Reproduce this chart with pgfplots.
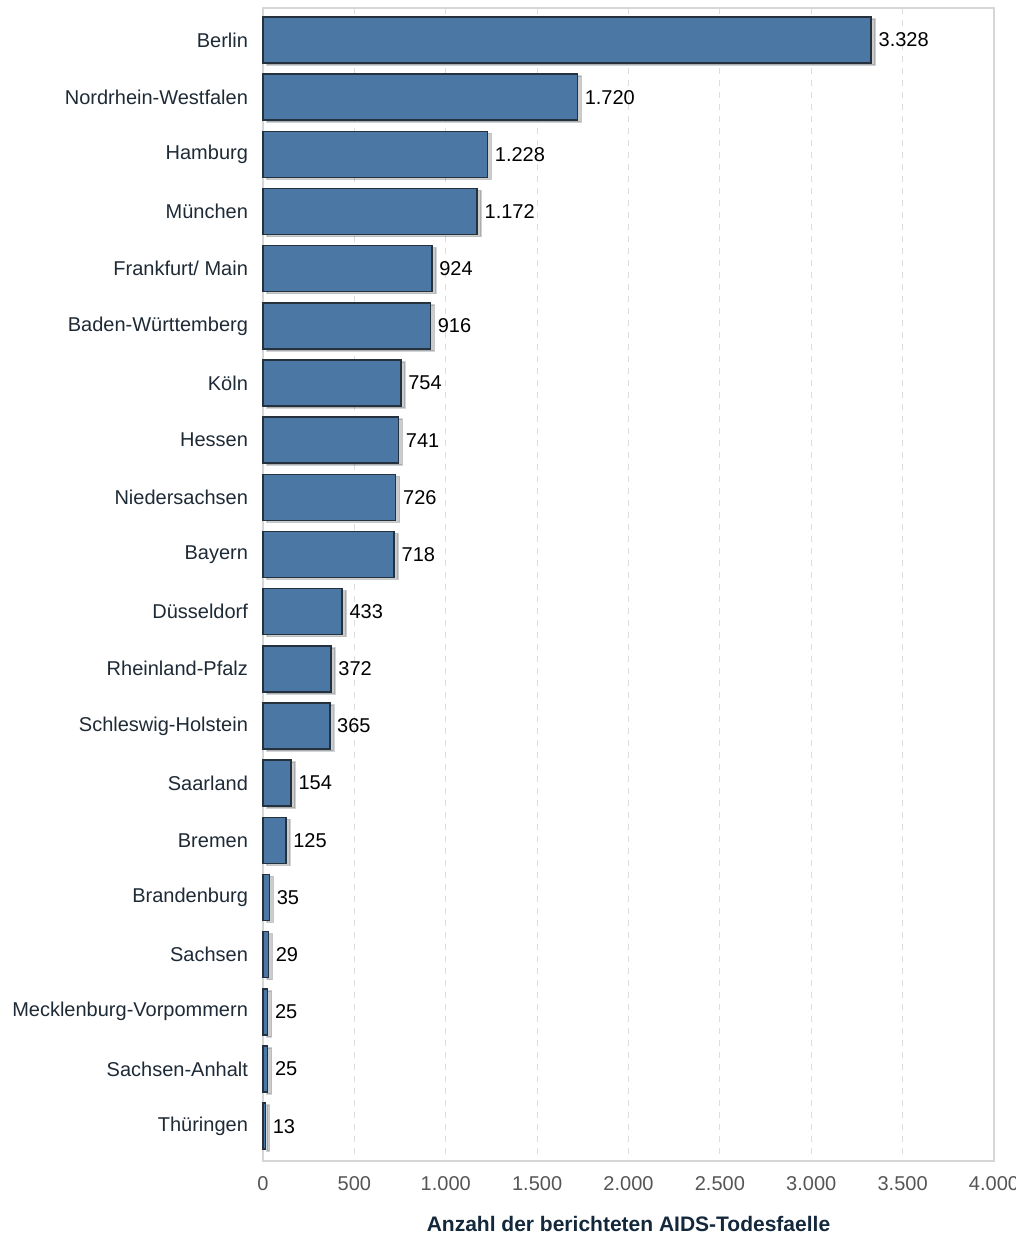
\documentclass[border=0pt]{standalone}
\usepackage{pgfplots}
\pgfplotsset{compat=1.18}
\usepackage{fontspec}
\setmainfont{Liberation Sans}
\usetikzlibrary{shadows}
\definecolor{barfill}{HTML}{4A77A3}
\definecolor{bardraw}{HTML}{25313D}
\definecolor{gridc}{HTML}{DDDDDD}
\definecolor{framec}{HTML}{D6D6D6}
\definecolor{labc}{HTML}{1E2A36}
\definecolor{tickc}{HTML}{555555}
\definecolor{titc}{HTML}{14283C}
\pgfplotstableread{
idx val
0 3328
1 1720
2 1228
3 1172
4 924
5 916
6 754
7 741
8 726
9 718
10 433
11 372
12 365
13 154
14 125
15 35
16 29
17 25
18 25
19 13
}\datatable
\begin{document}
\begin{tikzpicture}
\useasboundingbox (0,0) rectangle (507.5pt,617pt);
\begin{axis}[
  at={(131.5pt,36.5pt)}, anchor=south west,
  scale only axis, width=365.5pt, height=576.5pt,
  xbar, bar width=23pt,
  y dir=reverse,
  xmin=0, xmax=4000, ymin=-0.56, ymax=19.61,
  xtick={0,500,...,4000},
  ytick={0,...,19},
  yticklabels={Berlin,Nordrhein-Westfalen,Hamburg,München,Frankfurt/ Main,Baden-Württemberg,Köln,Hessen,Niedersachsen,Bayern,Düsseldorf,Rheinland-Pfalz,Schleswig-Holstein,Saarland,Bremen,Brandenburg,Sachsen,Mecklenburg-Vorpommern,Sachsen-Anhalt,Thüringen},
  major tick length=0pt,
  xmajorgrids, grid style={gridc, dashed, line width=0.5pt},
  axis line style={framec, line width=0.8pt},
  tick label style={font=\fontsize{10}{12}\selectfont},
  xticklabel style={tickc, yshift=-4pt},
  yticklabel style={labc, xshift=-4pt},
  xlabel={\bfseries Anzahl der berichteten AIDS-Todesfaelle},
  xlabel style={font=\fontsize{10.5}{12}\selectfont, titc, at={(axis description cs:0.5,0)}, anchor=center, yshift=-31.5pt},
  /pgf/number format/.cd, 1000 sep={.}, assume math mode=true,
  /pgfplots/.cd,
  nodes near coords,
  nodes near coords style={font=\fontsize{10}{12}\selectfont, black, anchor=west, xshift=0pt},
  clip=false,
]
\addplot[fill=barfill, draw=bardraw, line width=0.8pt,
  /tikz/drop shadow={shadow xshift=2pt, shadow yshift=-1pt, opacity=0.2, fill=black}]
  table[x=val, y=idx] {\datatable};
\end{axis}
\end{tikzpicture}
\end{document}
